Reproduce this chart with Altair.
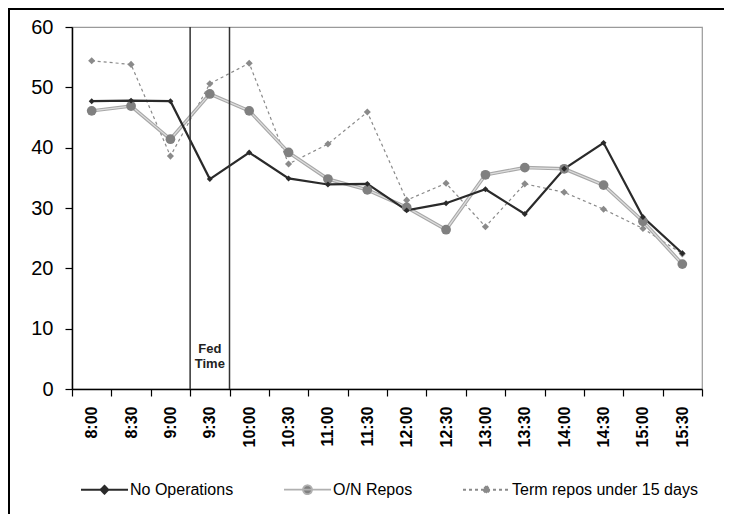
import altair as alt
import pandas as pd

times = ["8:00", "8:30", "9:00", "9:30", "10:00", "10:30", "11:00", "11:30",
         "12:00", "12:30", "13:00", "13:30", "14:00", "14:30", "15:00", "15:30"]
series_names = ["No Operations", "O/N Repos", "Term repos under 15 days"]
no_ops = [47.7, 47.8, 47.7, 34.8, 39.2, 34.9, 33.9, 34.0, 29.6, 30.8, 33.1, 29.0, 36.5, 40.8, 28.5, 22.5]
on_repos = [46.1, 46.9, 41.4, 48.9, 46.1, 39.2, 34.8, 33.0, 30.1, 26.4, 35.5, 36.7, 36.5, 33.8, 27.8, 20.7]
term_repos = [54.4, 53.8, 38.6, 50.6, 54.0, 37.3, 40.6, 45.9, 31.3, 34.1, 26.9, 34.0, 32.6, 29.8, 26.6, 22.4]
fed_window = ["9:30"]
fed_label = "Fed\nTime"
y_ticks = [0, 10, 20, 30, 40, 50, 60]

rows = []
for name, vals in zip(series_names, [no_ops, on_repos, term_repos]):
    for t, v in zip(times, vals):
        rows.append({"time": t, "value": v, "series": name})
df = pd.DataFrame(rows)

FONT = "Liberation Sans"
W, H = 630, 362

def xscale():
    return alt.Scale(type="band", domain=times, paddingInner=0, paddingOuter=0)

x_enc = alt.X("time:N", sort=times, scale=xscale(),
              axis=alt.Axis(title=None, labelAngle=270, labelFontWeight="bold", labelFontSize=16,
                            labelFont=FONT, labelColor="black", tickBand="extent",
                            tickSize=7, labelPadding=10, domainColor="black", domainWidth=1.5,
                            tickColor="black", tickWidth=1.2))
y_enc = alt.Y("value:Q", scale=alt.Scale(domain=[0, 60], nice=False),
              axis=alt.Axis(title=None, values=y_ticks, grid=False, labelFontSize=20, labelFont=FONT,
                            labelColor="black", tickSize=7, labelPadding=12, domainColor="black",
                            domainWidth=1.5, tickColor="black", tickWidth=1.2))

base = alt.Chart(df)

def ser(i):
    return base.transform_filter(alt.datum.series == series_names[i])

term_line = ser(2).mark_line(color="#8a8a8a", strokeWidth=1.2, strokeDash=[3, 3]).encode(x=x_enc, y=y_enc)
on_line_outer = ser(1).mark_line(color="#a8a8a8", strokeWidth=3.5).encode(x=x_enc, y=y_enc)
on_line_inner = ser(1).mark_line(color="#dedede", strokeWidth=1.2).encode(x=x_enc, y=y_enc)
no_line = ser(0).mark_line(color="#2a2a2a", strokeWidth=2.2).encode(x=x_enc, y=y_enc)

term_pts = ser(2).mark_point(shape="diamond", filled=True, color="#8a8a8a", size=50, opacity=1).encode(x=x_enc, y=y_enc)
on_pts = ser(1).mark_point(shape="circle", filled=True, color="#808080", size=95, opacity=1).encode(x=x_enc, y=y_enc)
no_pts = ser(0).mark_point(shape="diamond", filled=True, color="#2a2a2a", size=35, opacity=1).encode(x=x_enc, y=y_enc)

fed_df = pd.DataFrame({"time": fed_window, "label": [fed_label]})
rule_left = alt.Chart(fed_df).mark_rule(color="#333333", strokeWidth=1.5).encode(
    x=alt.X("time:N", sort=times, bandPosition=0, scale=xscale()))
rule_right = alt.Chart(fed_df).mark_rule(color="#333333", strokeWidth=1.5).encode(
    x=alt.X("time:N", sort=times, bandPosition=1, scale=xscale()))
fed_text = alt.Chart(fed_df).mark_text(font=FONT, fontSize=13, fontWeight="bold", color="#222222",
                                       lineBreak="\n", lineHeight=15, baseline="middle", align="center").encode(
    x=alt.X("time:N", sort=times, scale=xscale()),
    y=alt.Y(datum=6.6), text="label:N")

# legend carrier (draws no marks itself)
leg_df = pd.DataFrame({"series": series_names})
legend_paths = [
    "M-1,0H1M0,-0.17L0.17,0L0,0.17L-0.17,0Z",
    "M-1,0H1M0.19,0A0.19,0.19,0,1,1,-0.19,0A0.19,0.19,0,1,1,0.19,0Z",
    "M-1,0H1M0,-0.16L0.16,0L0,0.16L-0.16,0Z",
]
leg = alt.Chart(leg_df).transform_filter("datum.series == '__none__'").mark_point(filled=True, opacity=1).encode(
    shape=alt.Shape("series:N", scale=alt.Scale(domain=series_names, range=legend_paths), title=None),
    stroke=alt.Stroke("series:N", scale=alt.Scale(domain=series_names, range=["#2a2a2a", "#b0b0b0", "#8a8a8a"]), title=None),
    fill=alt.Fill("series:N", scale=alt.Scale(domain=series_names, range=["#2a2a2a", "#808080", "#8a8a8a"]), title=None),
    strokeDash=alt.StrokeDash("series:N", scale=alt.Scale(domain=series_names, range=[[1, 0], [1, 0], [3, 3]]), title=None),
)

# outer chart frame: only top and left edges are visible in the original
frame_top = alt.Chart(leg_df.head(1)).mark_rule(color="black", strokeWidth=2, clip=False).encode(
    x=alt.value(-64), x2=alt.value(W + 120), y=alt.value(-18))
frame_left = alt.Chart(leg_df.head(1)).mark_rule(color="black", strokeWidth=2, clip=False).encode(
    x=alt.value(-63), y=alt.value(-19), y2=alt.value(H + 220))

chart = alt.layer(
    frame_top, frame_left, term_line, on_line_outer, on_line_inner, no_line,
    rule_left, rule_right, term_pts, on_pts, no_pts, fed_text, leg
).properties(
    width=W, height=H,
    autosize=alt.AutoSizeParams(type="none"),
    padding={"left": 64, "top": 19, "right": 22, "bottom": 125},
).configure_view(
    stroke="#9a9a9a", strokeWidth=1.2
).configure_legend(
    orient="none", legendX=8, legendY=438, direction="horizontal",
    symbolSize=2209, symbolStrokeWidth=1.8, labelFont=FONT, labelFontSize=16, labelColor="black",
    labelOffset=1, columnPadding=46, labelLimit=400, symbolOpacity=1
)

chart.save("out.html", embed_options={"renderer": "svg", "actions": False})
